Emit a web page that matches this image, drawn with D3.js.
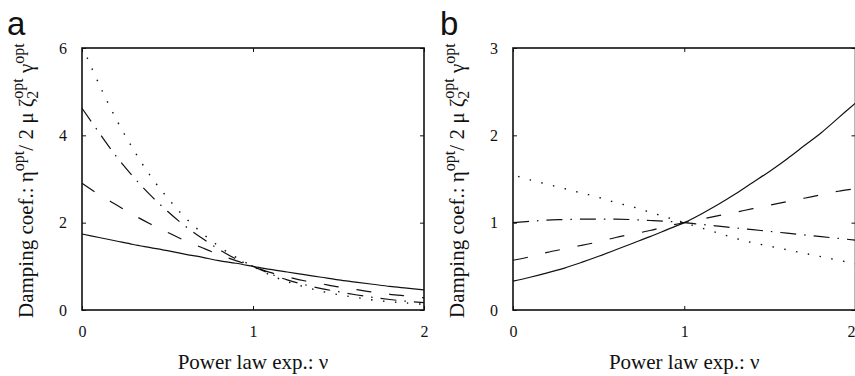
<!DOCTYPE html>
<html><head><meta charset="utf-8">
<script src="https://cdn.jsdelivr.net/npm/d3@7"></script>
<style>
html,body{margin:0;padding:0;background:#fff;}
svg{display:block;}
</style></head>
<body>
<svg id="chart" width="855" height="376"></svg>
<script>
// ---- data ----
const nu = [0,0.1,0.2,0.3,0.4,0.5,0.6,0.7,0.8,0.9,1.0,1.1,1.2,1.3,1.4,1.5,1.6,1.7,1.8,1.9,2.0];
const nuDot = [0.03,0.1,0.2,0.3,0.4,0.5,0.6,0.7,0.8,0.9,1.0,1.1,1.2,1.3,1.4,1.5,1.6,1.7,1.8,1.9,2.0];

const aSolid   = [1.74,1.66,1.58,1.50,1.43,1.36,1.28,1.21,1.13,1.07,1.00,0.93,0.87,0.81,0.75,0.69,0.64,0.59,0.54,0.50,0.46];
const aDash    = [2.90,2.64,2.41,2.18,1.97,1.78,1.59,1.43,1.27,1.13,1.00,0.86,0.76,0.67,0.60,0.53,0.47,0.41,0.36,0.32,0.28];
const aDashDot = [4.62,4.06,3.52,3.05,2.63,2.26,1.93,1.65,1.39,1.17,1.00,0.83,0.69,0.58,0.49,0.42,0.35,0.29,0.24,0.20,0.17];
const aDot     = [5.78,5.17,4.37,3.68,3.07,2.57,2.13,1.77,1.46,1.21,1.00,0.80,0.65,0.53,0.43,0.35,0.29,0.23,0.19,0.16,0.13];

const bSolid   = [0.33,0.375,0.425,0.48,0.545,0.615,0.69,0.765,0.84,0.92,1.00,1.10,1.21,1.33,1.46,1.59,1.73,1.88,2.03,2.20,2.37];
const bDash    = [0.57,0.61,0.66,0.70,0.74,0.78,0.83,0.87,0.91,0.96,1.00,1.04,1.08,1.12,1.16,1.20,1.24,1.28,1.32,1.36,1.39];
const bDashDot = [1.00,1.015,1.03,1.035,1.04,1.04,1.04,1.035,1.025,1.015,1.00,0.98,0.96,0.94,0.92,0.90,0.88,0.86,0.84,0.82,0.80];
const bDot     = [1.53,1.49,1.44,1.39,1.34,1.29,1.23,1.18,1.12,1.06,1.00,0.94,0.88,0.82,0.77,0.73,0.69,0.65,0.61,0.57,0.53];

const xTicks = [0,1,2];
const aYTicks = [0,2,4,6];
const bYTicks = [0,1,2,3];

const xTitle = "Power law exp.: \u03bd";

// ---- drawing ----
const svg = d3.select("#chart");
const serif = "'Liberation Serif','Times New Roman',serif";
const sans = "'Liberation Sans',Arial,sans-serif";

const styles = {
  solid:   {dash: null, w: 1.2},
  dash:    {dash: "15,18", w: 1.2},
  dashdot: {dash: "16,8,1.5,8", w: 1.2},
  dot:     {dash: "1.5,10.5", w: 1.4}
};

function panel(opts) {
  const {left, right, top, bottom, yMax, yTicks, series, label, labelX, titleX, clampLast} = opts;
  const x = d3.scaleLinear().domain([0,2]).range([left, right]);
  const y = d3.scaleLinear().domain([0,yMax]).range([bottom, top]);
  const g = svg.append("g");

  const line = d3.line().x(d => x(d[0])).y(d => y(d[1])).curve(d3.curveCatmullRom.alpha(0.5));
  series.forEach(s => {
    const pts = s.xs.map((v,i) => [v, s.ys[i]]);
    g.append("path").attr("d", line(pts))
      .attr("fill","none").attr("stroke","#111")
      .attr("stroke-width", styles[s.style].w)
      .attr("stroke-dasharray", styles[s.style].dash);
  });

  const tl = 4;
  const ax = g.append("g").attr("transform",`translate(0,${bottom})`)
    .call(d3.axisBottom(x).tickValues(xTicks).tickSizeInner(-tl).tickSizeOuter(0).tickPadding(14).tickFormat(d3.format("d")));
  const axT = g.append("g").attr("transform",`translate(0,${top})`)
    .call(d3.axisTop(x).tickValues(xTicks).tickSizeInner(-tl).tickSizeOuter(0).tickFormat(""));
  const ay = g.append("g").attr("transform",`translate(${left},0)`)
    .call(d3.axisLeft(y).tickValues(yTicks).tickSizeInner(-tl).tickSizeOuter(0).tickPadding(15).tickFormat(d3.format("d")));
  const ayR = g.append("g").attr("transform",`translate(${right},0)`)
    .call(d3.axisRight(y).tickValues(yTicks).tickSizeInner(-tl).tickSizeOuter(0).tickFormat(""));
  [ax,axT,ay,ayR].forEach(a => {
    a.select(".domain").remove();
    a.selectAll("line").attr("stroke","#111").attr("stroke-width",1);
    a.selectAll("text").attr("font-family", serif).attr("font-size", 16).attr("fill","#111");
  });
  ax.selectAll("text").attr("dy", null).attr("y", 27);
  if (clampLast) {
    ax.selectAll(".tick").filter(d => d === 2).select("text").attr("text-anchor","end").attr("x", 855 - right);
  }
  g.append("rect").attr("x", left).attr("y", top).attr("width", right-left).attr("height", bottom-top)
    .attr("fill","none").attr("stroke","#111").attr("stroke-width",1.6);

  g.append("text").attr("x", (left+right)/2).attr("y", 369)
    .attr("text-anchor","middle").attr("font-family", serif).attr("font-size", 21).attr("fill","#111")
    .text(xTitle);

  const t = g.append("text").attr("transform", `translate(${titleX},318) rotate(-90)`)
    .attr("font-family", serif).attr("font-size", 21).attr("fill","#111");
  t.append("tspan").text("Damping coef.: \u03b7");
  t.append("tspan").attr("font-size", 16).attr("dy", -9).text("opt");
  t.append("tspan").attr("dy", 9).text("/ 2 \u03bc \u03b6");
  t.append("tspan").attr("font-size", 16).attr("dy", 5).text("2");
  t.append("tspan").attr("font-size", 16).attr("dx", -8).attr("dy", -15).text("opt");
  t.append("tspan").attr("dy", 10).text(" \u03b3");
  t.append("tspan").attr("font-size", 16).attr("dy", -9).text("opt");

  g.append("text").attr("x", labelX).attr("y", 35).attr("font-family", sans).attr("font-size", 33).attr("fill","#111").text(label);
}

panel({left: 82, right: 424, top: 48, bottom: 310, yMax: 6, yTicks: aYTicks, label: "a", labelX: 7, titleX: 33,
  series: [
    {xs: nu, ys: aSolid, style: "solid"},
    {xs: nu, ys: aDash, style: "dash"},
    {xs: nu, ys: aDashDot, style: "dashdot"},
    {xs: nuDot, ys: aDot, style: "dot"}
  ]});
panel({left: 513, right: 855.5, top: 48, bottom: 310, yMax: 3, yTicks: bYTicks, label: "b", labelX: 440, titleX: 464, clampLast: true,
  series: [
    {xs: nu, ys: bSolid, style: "solid"},
    {xs: nu, ys: bDash, style: "dash"},
    {xs: nu, ys: bDashDot, style: "dashdot"},
    {xs: nuDot, ys: bDot, style: "dot"}
  ]});
</script>
</body></html>
